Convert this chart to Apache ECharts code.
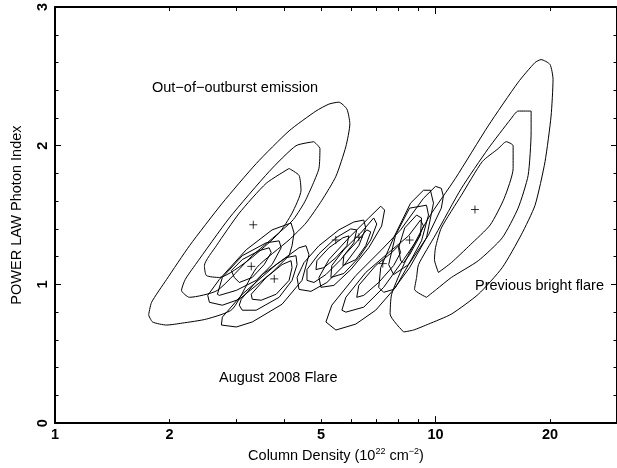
<!DOCTYPE html>
<html><head><meta charset="utf-8">
<script src="https://cdn.jsdelivr.net/npm/echarts@6/dist/echarts.min.js"></script>
<style>html,body{margin:0;padding:0;background:#fff}#c{width:617px;height:468px}</style>
</head><body><div id="c"></div>
<script>
// axis ticks / labels
const xLabelValues = [1, 2, 5, 10, 20];
const xMinorTicks = [2, 3, 4, 5, 6, 7, 8, 9, 20];
const xMajorTicks = [10];
const yLabelValues = [0, 1, 2, 3];

// best-fit positions (column density, photon index)
const bestFits = [[3.32,1.43],[3.28,1.13],[3.77,1.04],[5.47,1.32],[6.29,1.34],[7.27,1.15],[8.55,1.32],[12.7,1.54]];

// Out-of-outburst emission contours
const outburstOuter = [[1.762,0.779],[1.794,0.871],[1.965,1.036],[2.257,1.279],[2.753,1.586],[3.379,1.871],[4.123,2.107],[4.851,2.25],[5.247,2.3],[5.573,2.314],[5.85,2.264],[5.956,2.157],[5.813,1.993],[5.474,1.779],[5.03,1.607],[4.568,1.443],[4.123,1.321],[3.39,1.121],[2.925,0.821],[2.5,0.75],[2.16,0.721],[1.965,0.707],[1.805,0.729]];
const outburstMid = [[4.793,2.029],[4.97,1.979],[4.94,1.836],[4.735,1.707],[4.513,1.586],[4.198,1.457],[3.3,1.207],[2.672,0.957],[2.257,0.907],[2.15,0.957],[2.2,1.036],[2.34,1.143],[2.872,1.479],[3.655,1.814],[4.30,2.0]];
const outburstInner = [[4.123,1.836],[4.379,1.786],[4.432,1.679],[4.198,1.514],[3.882,1.371],[3.24,1.179],[2.704,1.05],[2.5,1.064],[2.47,1.136],[2.656,1.279],[3.05,1.514],[3.59,1.729]];

// August 2008 flare contours
const flareAInner = [[2.96,1.05],[2.907,1.1],[3.106,1.179],[3.441,1.243],[3.655,1.264],[3.70,1.229],[3.546,1.143],[3.299,1.05],[3.05,1.014]];
const flareAMid = [[2.672,0.929],[2.753,1.05],[3.106,1.207],[3.59,1.3],[3.882,1.314],[3.93,1.264],[3.72,1.143],[3.379,1.029],[2.996,0.957],[2.704,0.921]];
const flareAOuter = [[2.546,0.871],[2.52,0.921],[2.704,1.036],[3.182,1.25],[3.72,1.393],[4.173,1.443],[4.249,1.371],[4.198,1.279],[4.123,1.207],[3.72,1.086],[3.05,0.893],[2.753,0.85]];
const flareBInner = [[3.299,0.893],[3.279,0.929],[3.59,1.05],[3.952,1.143],[4.173,1.171],[4.198,1.121],[4.123,1.029],[3.813,0.929],[3.483,0.886]];
const flareBMid = [[3.05,0.85],[3.087,0.893],[3.504,1.071],[4.048,1.193],[4.30,1.207],[4.327,1.143],[4.198,1.029],[3.882,0.907],[3.379,0.814],[3.106,0.814]];
const flareBOuter = [[2.737,0.707],[2.753,0.764],[3.106,0.929],[3.813,1.143],[4.379,1.264],[4.568,1.279],[4.651,1.214],[4.459,1.029],[3.952,0.857],[3.299,0.729],[2.996,0.693]];
const flareCOuter = [[4.379,0.964],[4.327,1.05],[4.513,1.157],[4.94,1.279],[5.573,1.393],[6.10,1.45],[6.479,1.464],[6.557,1.407],[6.287,1.279],[5.744,1.136],[5.184,1.014],[4.707,0.95]];
const flareCMid = [[4.595,1.029],[4.595,1.107],[4.94,1.221],[5.474,1.336],[5.99,1.4],[6.21,1.393],[6.10,1.3],[5.64,1.179],[5.153,1.071],[4.793,1.014]];
const flareCInner = [[4.851,1.107],[4.88,1.171],[5.247,1.264],[5.71,1.336],[5.92,1.35],[5.85,1.279],[5.474,1.193],[5.091,1.121]];
const flareDOuter = [[5.0,0.979],[4.94,1.05],[5.247,1.179],[5.92,1.336],[6.677,1.479],[7.18,1.564],[7.35,1.536],[7.22,1.421],[6.677,1.264],[5.99,1.107],[5.408,0.993]];
const flareDMid = [[5.31,1.05],[5.34,1.136],[5.744,1.25],[6.363,1.371],[6.881,1.479],[7.01,1.436],[6.76,1.321],[6.287,1.193],[5.744,1.079]];
const flareDInner = [[5.71,1.136],[5.744,1.207],[6.175,1.3],[6.6,1.393],[6.76,1.379],[6.557,1.279],[6.175,1.179]];
const flareEOuter = [[5.153,0.729],[5.34,0.85],[6.175,1.064],[7.22,1.25],[8.097,1.393],[9.301,1.621],[10.0,1.707],[10.36,1.693],[10.49,1.636],[10.36,1.55],[9.587,1.357],[8.497,1.143],[7.857,0.979],[6.964,0.814],[6.175,0.714],[5.474,0.671]];
const flareEMid = [[5.676,0.814],[5.813,0.907],[6.557,1.086],[7.533,1.229],[8.497,1.35],[9.134,1.464],[9.301,1.421],[9.025,1.336],[8.245,1.179],[7.309,0.979],[6.479,0.836],[5.813,0.8]];
const flareEInner = [[6.21,0.907],[6.287,0.993],[6.964,1.136],[7.67,1.229],[8.0,1.279],[8.097,1.229],[7.763,1.136],[7.092,1.014],[6.479,0.921]];
const flareFOuter = [[7.092,0.979],[7.18,1.121],[7.763,1.336],[8.6,1.586],[9.301,1.679],[9.70,1.679],[9.88,1.586],[9.473,1.336],[8.55,1.121],[7.763,0.964],[7.309,0.943]];
const flareFMid = [[7.533,1.143],[7.857,1.357],[8.55,1.55],[9.473,1.571],[9.587,1.5],[9.19,1.314],[8.497,1.143],[7.763,1.071]];
const flareFInner = [[8.097,1.171],[8.0,1.264],[8.3,1.407],[8.92,1.5],[9.19,1.479],[9.134,1.357],[8.55,1.214],[8.245,1.157]];

// Previous bright flare contours
const prevOuter = [[8.245,0.657],[7.6,0.786],[7.67,0.929],[8.347,1.171],[9.587,1.479],[11.28,1.764],[13.76,2.143],[16.49,2.457],[18.27,2.6],[18.95,2.621],[20.0,2.586],[20.37,2.479],[20.13,2.214],[19.41,1.886],[18.27,1.571],[16.8,1.357],[14.98,1.121],[12.96,0.929],[11.01,0.786],[9.587,0.714],[8.757,0.671]];
const prevMid = [[9.473,0.907],[8.81,0.964],[8.92,1.05],[9.025,1.143],[10.0,1.357],[11.7,1.693],[13.76,1.979],[15.78,2.193],[16.49,2.25],[17.84,2.25],[17.84,2.1],[17.52,1.786],[16.49,1.55],[14.98,1.336],[12.96,1.171],[11.01,1.05],[10.06,0.964]];
const prevInner = [[10.18,1.086],[9.94,1.179],[10.0,1.264],[10.36,1.407],[11.7,1.643],[13.28,1.886],[14.62,1.979],[15.34,2.029],[16.0,2.0],[16.0,1.836],[15.16,1.621],[13.93,1.429],[12.35,1.286],[11.01,1.157]];

const largeContours = [outburstOuter,outburstMid,outburstInner,prevOuter,prevMid,prevInner];
const smallContours = [
  flareAInner,flareAMid,flareAOuter,flareBInner,flareBMid,flareBOuter,
  flareCOuter,flareCMid,flareCInner,flareDOuter,flareDMid,flareDInner,
  flareEOuter,flareEMid,flareEInner,flareFOuter,flareFMid,flareFInner];

const FONT = "'Liberation Sans', Arial, Helvetica, sans-serif";
const chart = echarts.init(document.getElementById('c'), null, {renderer: 'canvas'});

function xAxisDef(pos, ticks, len, showLine, showLabel, name) {
  return {
    type: 'log', logBase: 10, min: 1, max: 30, position: pos,
    axisLine: {show: showLine, onZero: false, lineStyle: {color: '#000', width: 2}},
    axisTick: {show: true, inside: true, length: len, customValues: ticks, lineStyle: {color: '#000', width: 1}},
    axisLabel: {show: showLabel, customValues: xLabelValues, color: '#000', fontWeight: 'bold', fontSize: 14.5, fontFamily: FONT, margin: 4},
    splitLine: {show: false}, minorTick: {show: false}, minorSplitLine: {show: false},
    name: name || '', nameLocation: 'middle', nameGap: 21,
    nameTextStyle: {color: '#000', fontSize: 14.5, fontFamily: FONT,
      rich: {sup: {fontSize: 9, fontFamily: FONT, color: '#000', verticalAlign: 'top', padding: [0, 0, 8, 0]}}}
  };
}

function contourSeries(c, smooth) {
  return {
    type: 'line', xAxisIndex: 0, yAxisIndex: 0,
    data: c.concat([c[0]]), showSymbol: false, symbol: 'none', smooth: smooth,
    lineStyle: {color: '#000', width: 1}, silent: true, animation: false, z: 3
  };
}
const series = largeContours.map(c => contourSeries(c, 0.2))
  .concat(smallContours.map(c => contourSeries(c, false)));
series.push({
  type: 'scatter', xAxisIndex: 0, yAxisIndex: 0, data: bestFits,
  symbol: 'path://M0,5L10,5M5,0L5,10', symbolSize: 8,
  itemStyle: {color: 'rgba(0,0,0,0)', borderColor: '#000', borderWidth: 1}, silent: true, animation: false, z: 4
});

chart.setOption({
  animation: false,
  backgroundColor: '#fff',
  grid: {left: 55, top: 7, width: 564, height: 420, containLabel: false},
  xAxis: [
    xAxisDef('bottom', xMinorTicks, 4, true, true, 'Column Density (10{sup|22} cm{sup|\u22122})'),
    xAxisDef('bottom', xMajorTicks, 7, false, false),
    xAxisDef('top', xMinorTicks, 4, true, false),
    xAxisDef('top', xMajorTicks, 7, false, false)
  ],
  yAxis: [
    {type: 'value', min: 0, max: 3, interval: 1, position: 'left',
     axisLine: {show: true, onZero: false, lineStyle: {color: '#000', width: 2}},
     axisTick: {show: true, inside: true, length: 6, lineStyle: {color: '#000'}},
     minorTick: {show: true, splitNumber: 5, length: 3.5, lineStyle: {color: '#000'}},
     axisLabel: {rotate: 90, color: '#000', fontWeight: 'bold', fontSize: 14.5, fontFamily: FONT, margin: 5,
       customValues: yLabelValues},
     splitLine: {show: false},
     name: 'POWER LAW Photon Index', nameLocation: 'middle', nameGap: 31,
     nameTextStyle: {color: '#000', fontSize: 14.5, fontFamily: FONT}},
    {type: 'value', min: 0, max: 3, interval: 1, position: 'right',
     axisLine: {show: true, onZero: false, lineStyle: {color: '#000', width: 2}},
     axisTick: {show: true, inside: true, length: 6, lineStyle: {color: '#000'}},
     minorTick: {show: true, splitNumber: 5, length: 3.5, lineStyle: {color: '#000'}},
     axisLabel: {show: false}, splitLine: {show: false}}
  ],
  graphic: [
    {type: 'text', left: 152, top: 80, style: {text: 'Out\u2212of\u2212outburst emission', fontSize: 14.5, fontFamily: FONT, fill: '#000'}},
    {type: 'text', left: 475, top: 278, style: {text: 'Previous bright flare', fontSize: 14.5, fontFamily: FONT, fill: '#000'}},
    {type: 'text', left: 219, top: 370, style: {text: 'August 2008 Flare', fontSize: 14.5, fontFamily: FONT, fill: '#000'}}
  ],
  series: series
});
</script></body></html>
